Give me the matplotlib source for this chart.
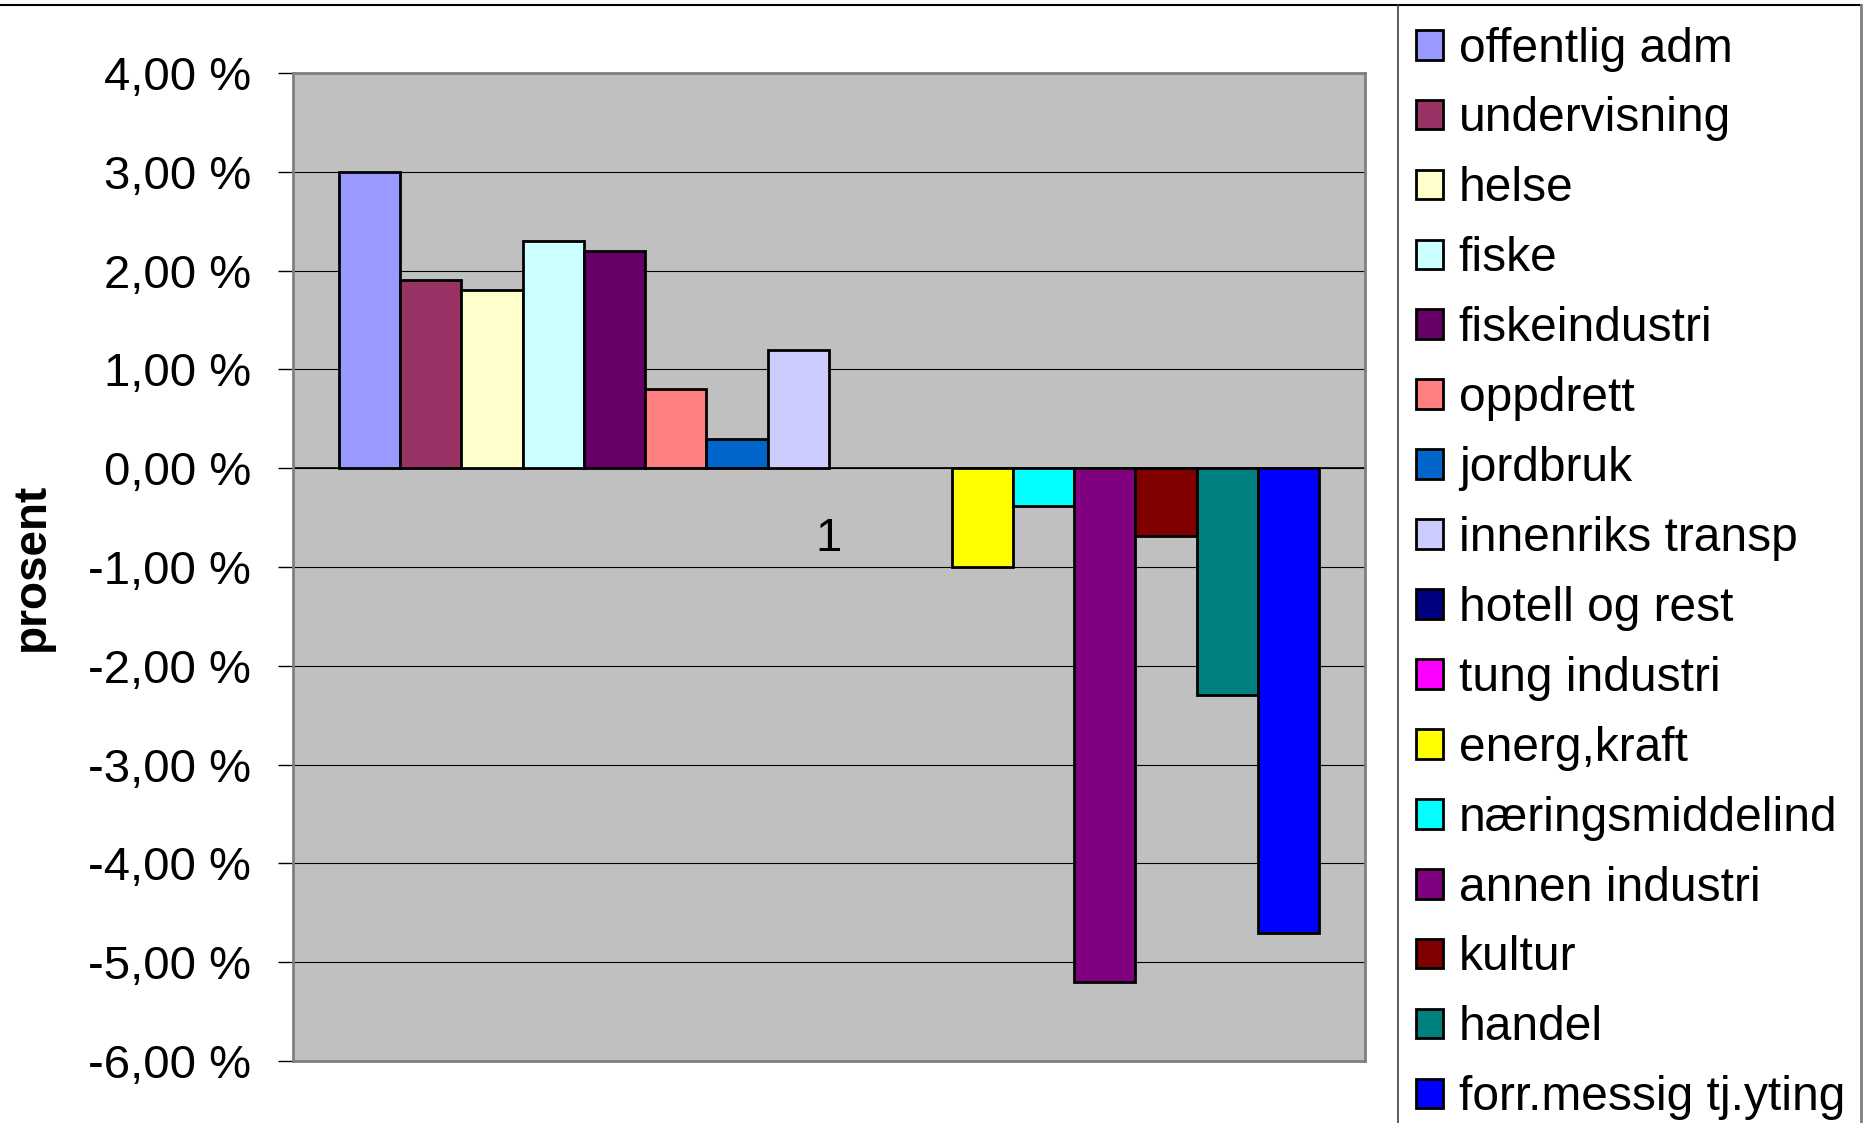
import matplotlib
matplotlib.use("Agg")
import matplotlib.pyplot as plt
from matplotlib.lines import Line2D
from matplotlib.ticker import FuncFormatter, MultipleLocator

plt.rcParams['font.family'] = ['Liberation Sans', 'DejaVu Sans']

# data (prosent, one category "1")
category = "1"
series = ["offentlig adm", "undervisning", "helse", "fiske", "fiskeindustri",
          "oppdrett", "jordbruk", "innenriks transp", "hotell og rest",
          "tung industri", "energ,kraft", "næringsmiddelind", "annen industri",
          "kultur", "handel", "forr.messig tj.yting"]
values = [3.0, 1.9, 1.8, 2.3, 2.2, 0.8, 0.3, 1.2, 0.0, 0.0,
          -1.0, -0.38, -5.2, -0.69, -2.3, -4.7]
colors = ["#9999FF", "#993366", "#FFFFCC", "#CCFFFF", "#660066", "#FF8080",
          "#0066CC", "#CCCCFF", "#000080", "#FF00FF", "#FFFF00", "#00FFFF",
          "#800080", "#800000", "#008080", "#0000FF"]
y_min, y_max = -6, 4

W, H = 1866, 1123
fig = plt.figure(figsize=(W / 100, H / 100), dpi=100)
ax = fig.add_axes([293 / W, 1 - 1061 / H, (1365 - 293) / W, (1061 - 73) / H])
ax.set_facecolor("#C0C0C0")

n = len(series)
w = 1 / (n + 1.5)  # excel gap width 150 %
handles = []
for i, (name, v, c) in enumerate(zip(series, values, colors)):
    ax.bar((i - (n - 1) / 2) * w, v, width=w, color=c, edgecolor="black",
           linewidth=2 if v else 0, zorder=3)
    # legend swatch keeps its border even when the bar is empty
    handles.append(plt.Rectangle((0, 0), 1, 1, facecolor=c, edgecolor="black",
                                 linewidth=2))

ax.set_xlim(-0.5, 0.5)
ax.set_ylim(y_min, y_max)
ax.yaxis.set_major_locator(MultipleLocator(1))
ax.yaxis.set_major_formatter(FuncFormatter(
    lambda v, p: f"{v:.2f}".replace(".", ",").replace("−", "-") + " %"))
ax.tick_params(axis="y", labelsize=34, length=11, width=1, pad=19, colors="black")
ax.set_xticks([])
ax.grid(axis="y", color="black", linewidth=0.8, zorder=1)
ax.axhline(0, color="black", linewidth=1.2, zorder=2)
for s in ax.spines.values():
    s.set_color("#808080")
    s.set_linewidth(2)

# category label under the zero line
ax.annotate(category, xy=(0, 0), xytext=(0, -51), textcoords="offset points",
            ha="center", va="center", fontsize=34)

fig.text(32 / W, 1 - 567 / H, "prosent", rotation=90, ha="center", va="center",
         fontsize=33, fontweight="bold")

fig.legend(handles=handles, labels=series, loc="upper left",
           bbox_to_anchor=(1406 / W, 1 - 17 / H),
           frameon=False, fontsize=34.5, handlelength=0.58, handleheight=0.58,
           handletextpad=0.32, labelspacing=0.52, borderpad=0.2, borderaxespad=0)

# chart / legend borders
fig.add_artist(Line2D([0, 1861 / W], [1 - 5 / H, 1 - 5 / H], color="black", lw=1.5))
fig.add_artist(Line2D([1398 / W, 1398 / W], [0, 1 - 5 / H], color="#404040", lw=1.2))
fig.add_artist(Line2D([1861 / W, 1861 / W], [0, 1 - 5 / H], color="#808080", lw=2))

fig.savefig("out.png", dpi=100)
